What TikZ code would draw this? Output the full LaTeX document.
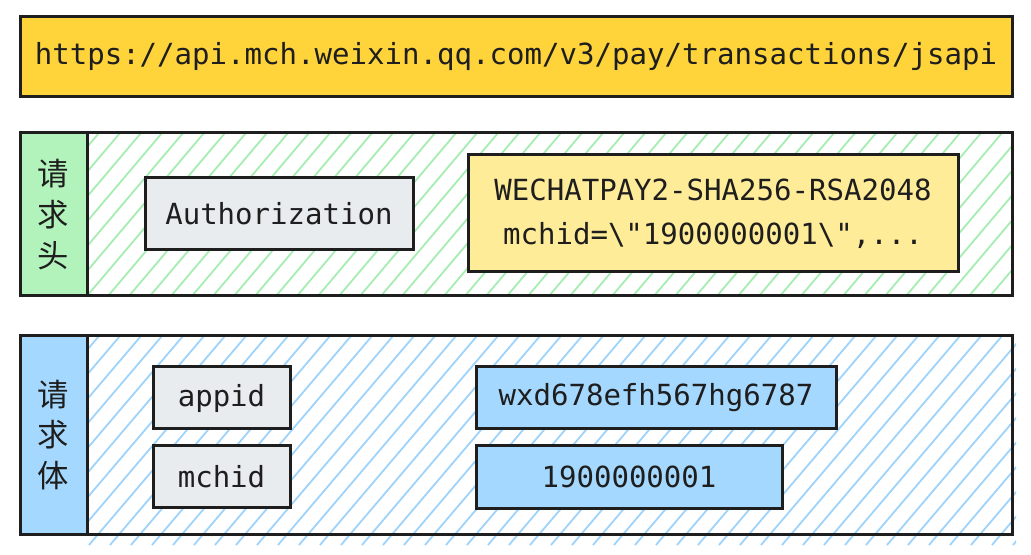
\documentclass[tikz,border=0pt]{standalone}
\usepackage{fontspec}
\setmonofont{DejaVu Sans Mono}
\newfontfamily\cjk{Noto Sans CJK SC}
\definecolor{ink}{HTML}{1E1E1E}
\definecolor{urlyellow}{HTML}{FFD43B}
\definecolor{lightyellow}{HTML}{FFEC99}
\definecolor{labgreen}{HTML}{B2F2BB}
\definecolor{hatchgreen}{HTML}{A6EDB1}
\definecolor{labblue}{HTML}{A5D8FF}
\definecolor{hatchblue}{HTML}{9ED3FB}
\definecolor{keygray}{HTML}{E9ECEF}
\newdimen\pxu
\pxu=0.75pt
\tikzset{
  boxbase/.style={draw=ink, line width=3\pxu, inner sep=0pt, outer sep=0pt, text=ink,
    font=\ttfamily\fontsize{21.8}{33}\selectfont, align=center},
  urlbox/.style={boxbase, fill=urlyellow},
  keybox/.style={boxbase, fill=keygray},
  valyellow/.style={boxbase, fill=lightyellow},
  valblue/.style={boxbase, fill=labblue},
  sectionbox/.style={draw=ink, line width=3\pxu, inner sep=0pt, outer sep=0pt},
  labcol/.style={draw=ink, line width=3\pxu, inner sep=0pt, outer sep=0pt, text=ink,
    font=\cjk\fontsize{23.5}{30.5}\selectfont, align=center},
  hatch/.style={line width=1.8\pxu},
}
\begin{document}
\begin{tikzpicture}[x=0.75pt, y=-0.75pt]
\useasboundingbox[fill=white] (0,0) rectangle (1031,555);

% URL bar
\node[urlbox, minimum width=992\pxu, minimum height=80\pxu] (url) at (516,57)
  {https://api.mch.weixin.qq.com/v3/pay/transactions/jsapi};

% ---------- header section ----------
\begin{scope}
  \clip (87,133) rectangle (1012,296);
  \foreach \x in {-60,-39,...,1030}
    \draw[hatch, hatchgreen] (\x,296) -- (\x+138,133);
\end{scope}
\node[sectionbox, minimum width=992\pxu, minimum height=163\pxu] (hdr) at (516,214.5) {};
\node[labcol, fill=labgreen, minimum width=67\pxu, minimum height=163\pxu] (hdrlab) at (53.5,214.5)
  {请\\求\\头};
\node[keybox, minimum width=268\pxu, minimum height=72\pxu] (auth) at (279,214) {Authorization};
\node[valyellow, minimum width=490\pxu, minimum height=117\pxu] (authval) at (713,213.5)
  {WECHATPAY2-SHA256-RSA2048\\mchid=\textbackslash"1900000001\textbackslash",...};

% ---------- body section ----------
\begin{scope}
  \clip (87,336) rectangle (1016,545);
  \foreach \x in {-100,-79,...,1030}
    \draw[hatch, hatchblue] (\x,545) -- (\x+178,336);
\end{scope}
\node[sectionbox, minimum width=992\pxu, minimum height=198\pxu] (body) at (516,435) {};
\node[labcol, fill=labblue, minimum width=67\pxu, minimum height=198\pxu] (bodylab) at (53.5,435)
  {请\\求\\体};
\node[keybox, minimum width=137\pxu, minimum height=62\pxu] (appid) at (221.5,398) {appid};
\node[keybox, minimum width=137\pxu, minimum height=62\pxu] (mchid) at (221.5,476.5) {mchid};
\node[valblue, minimum width=360\pxu, minimum height=62\pxu] (appidval) at (656,398) {wxd678efh567hg6787};
\node[valblue, minimum width=306\pxu, minimum height=62\pxu] (mchidval) at (629,477) {1900000001};
\end{tikzpicture}
\end{document}
